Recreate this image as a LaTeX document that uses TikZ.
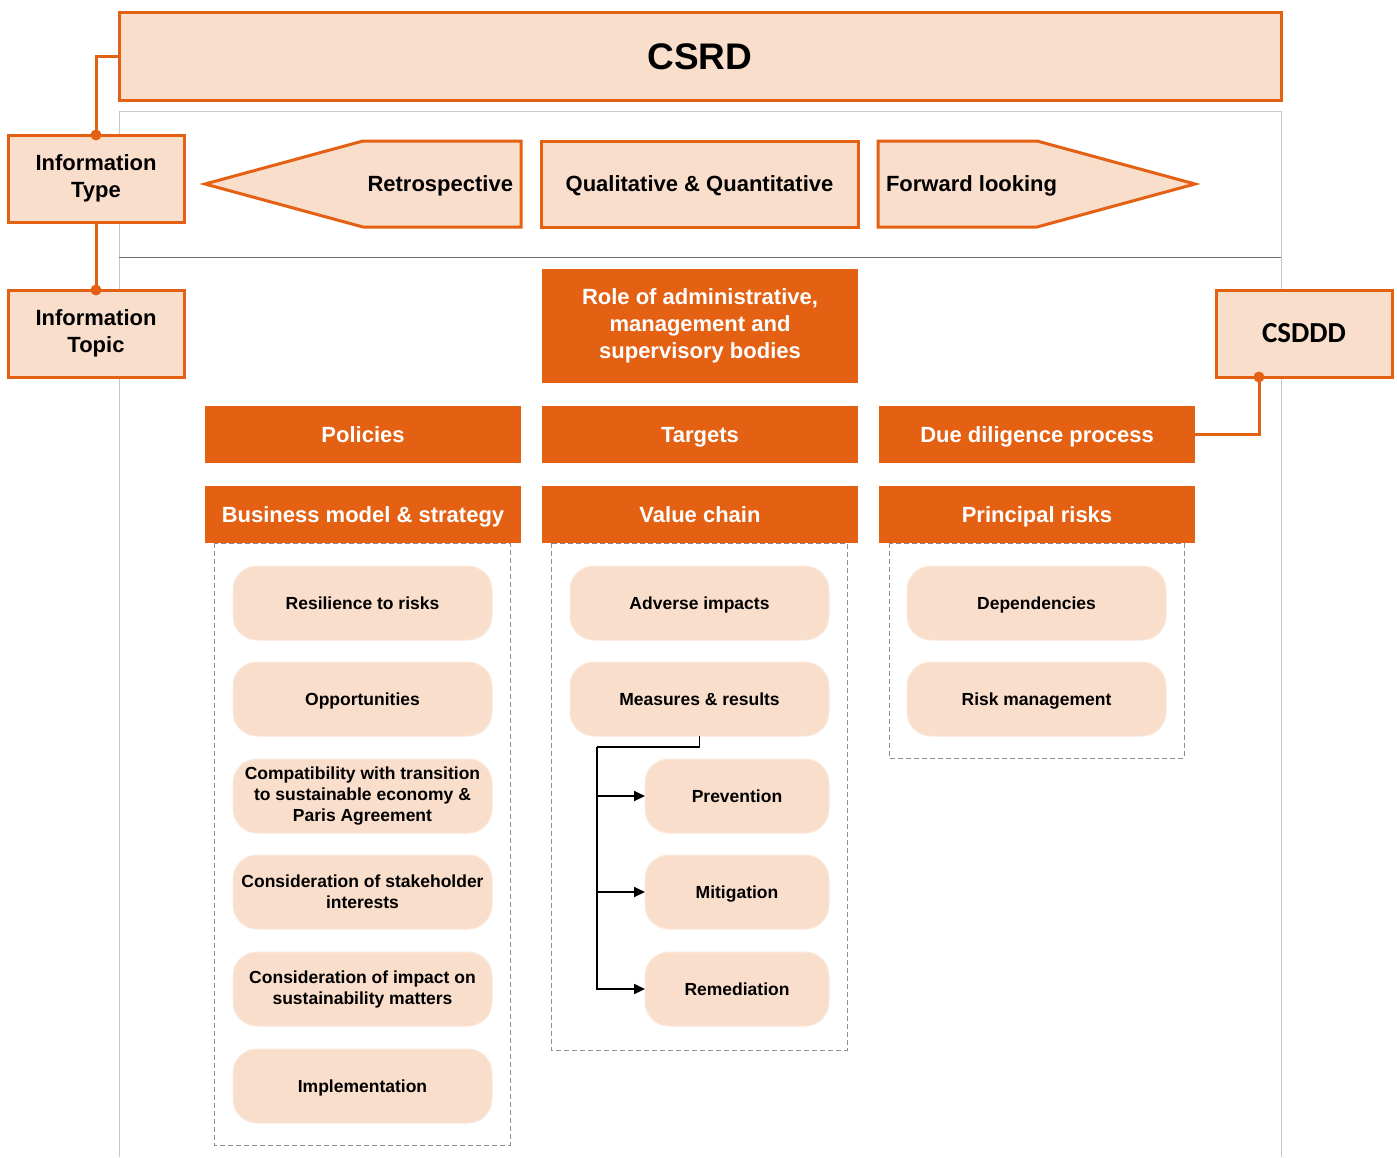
\documentclass[tikz,border=0pt]{standalone}
\usepackage{fontspec}
\setmainfont{Liberation Sans}
\newfontfamily\csdddfont{Carlito}
\usetikzlibrary{calc,positioning,arrows.meta}

\definecolor{csrdorange}{RGB}{228,97,19}
\definecolor{csrdpeach}{RGB}{250,222,204}
\definecolor{framegray}{RGB}{200,200,200}
\definecolor{rulegray}{RGB}{110,110,110}

\begin{document}
\begin{tikzpicture}
      [x=1pt, y=-1pt,
        >={Triangle[length=11pt,width=10pt]},
        every node/.style={inner sep=0pt, outer sep=0pt, font=\bfseries},
        big line/.style={text height=20.2pt, text depth=4.4pt},
        small line/.style={text height=16.1pt, text depth=3.5pt},
        multiline/.style={text height={}, text depth={}},
        label box/.style={
          rectangle,
          draw=csrdorange, line width=3pt,
          fill=csrdpeach,
          minimum width=176pt,
          minimum height=87pt,
          align=center,
          font=\fontsize{22}{27}\selectfont\bfseries},
        type box/.style={
          draw=csrdorange, line width=3pt,
          fill=csrdpeach,
          font=\fontsize{22}{27}\selectfont\bfseries},
        topic box/.style={
          rectangle, big line,
          fill=csrdorange,
          text=white,
          minimum width=316pt,
          minimum height=57pt,
          align=center,
          font=\fontsize{22}{27}\selectfont\bfseries},
        item/.style={
          rectangle, small line, rounded corners=24pt,
          draw=csrdpeach!70!white, line width=1pt,
          fill=csrdpeach,
          minimum width=259pt,
          minimum height=74pt,
          align=center,
          font=\fontsize{17.5}{21}\selectfont\bfseries},
        subitem/.style={item, minimum width=184pt},
        group/.style={draw=black!45, line width=1pt, dash pattern=on 5pt off 3pt},
        link/.style={draw=csrdorange, line width=3pt},
        pin/.style={fill=csrdorange, circle, minimum size=11pt},
        branch/.style={draw=black, line width=1.8pt},]
      \useasboundingbox (0,0) rectangle (1397,1157);

      % frame
      \draw[framegray, line width=1pt] (119,1157) -- (119,111) -- (1281,111) -- (1281,1157);
      \draw[rulegray, line width=1pt] (119,257) -- (1281,257);

      % regulation
      \node[type box, text height=34pt, text depth=7.4pt, minimum width=1162pt, minimum height=88pt,
        font=\fontsize{37}{40}\selectfont\bfseries] (csrd) at (700,56) {CSRD};
      \node[label box] (infotype) at (96,178.5) {Information\\Type};
      \node[label box] (infotopic) at (96,333.5) {Information\\Topic};
      \node[label box, text height=23.7pt, text depth=5pt,
        font=\fontsize{29}{32}\selectfont\csdddfont\bfseries] (csddd) at (1304,333.5) {CSDDD};

      % information type
      \filldraw[type box] (205,184) -- (363,141) -- (521,141) -- (521,227) -- (363,227) -- cycle;
      \node[anchor=east, big line, font=\fontsize{22}{27}\selectfont\bfseries] (retro) at (513,184) {Retrospective};
      \node[type box, big line, minimum width=317pt, minimum height=86pt] (qualquant) at (699.5,184) {Qualitative \& Quantitative};
      \filldraw[type box] (878,141) -- (1037,141) -- (1195,184) -- (1037,227) -- (878,227) -- cycle;
      \node[anchor=west, big line, font=\fontsize{22}{27}\selectfont\bfseries] (forward) at (886,184) {Forward looking};

      % information topic
      \node[topic box, multiline, minimum height=114pt] (role) at (700,326) {Role of administrative,\\management and\\supervisory bodies};
      \node[topic box] (policies) at (363,434.5) {Policies};
      \node[topic box] (targets) at (700,434.5) {Targets};
      \node[topic box] (duediligence) at (1037,434.5) {Due diligence process};
      \node[topic box] (bizmodel) at (363,514.5) {Business model \& strategy};
      \node[topic box] (valuechain) at (700,514.5) {Value chain};
      \node[topic box] (principal) at (1037,514.5) {Principal risks};

      % groups
      \draw[group] (214,543) rectangle (510,1145);
      \draw[group] (551,543) rectangle (847,1050);
      \draw[group] (889,543) rectangle (1184,758);

      \node[item] (resilience) at (362.5,603) {Resilience to risks};
      \node[item] (opportunities) at (362.5,699) {Opportunities};
      \node[item, multiline] (compatibility) at (362.5,796) {Compatibility with transition\\to sustainable economy \&\\Paris Agreement};
      \node[item, multiline] (stakeholder) at (362.5,892) {Consideration of stakeholder\\interests};
      \node[item, multiline] (impact) at (362.5,989) {Consideration of impact on\\sustainability matters};
      \node[item] (implementation) at (362.5,1086) {Implementation};

      \node[item] (adverse) at (699.5,603) {Adverse impacts};
      \node[item] (measures) at (699.5,699) {Measures \& results};
      \node[subitem] (prevention) at (737,796) {Prevention};
      \node[subitem] (mitigation) at (737,892) {Mitigation};
      \node[subitem] (remediation) at (737,989) {Remediation};

      \node[item] (dependencies) at (1036.5,603) {Dependencies};
      \node[item] (riskmgmt) at (1036.5,699) {Risk management};

      % connectors
      \draw[link] (csrd.west) -| (infotype.north);
      \node[pin] at (infotype.north) {};
      \draw[link] (infotype.south) -- (infotopic.north);
      \node[pin] at (infotopic.north) {};
      \coordinate (csdddpin) at ([xshift=-45pt]csddd.south);
      \draw[link] (csdddpin) |- (duediligence.east);
      \node[pin] at (csdddpin) {};

      \coordinate (trunk) at (597,747);
      \draw[branch] (measures.south) |- (trunk);
      \draw[branch, ->] (trunk) |- (remediation.west);
      \draw[branch, ->] (trunk |- prevention.west) -- (prevention.west);
      \draw[branch, ->] (trunk |- mitigation.west) -- (mitigation.west);
    \end{tikzpicture}
\end{document}
